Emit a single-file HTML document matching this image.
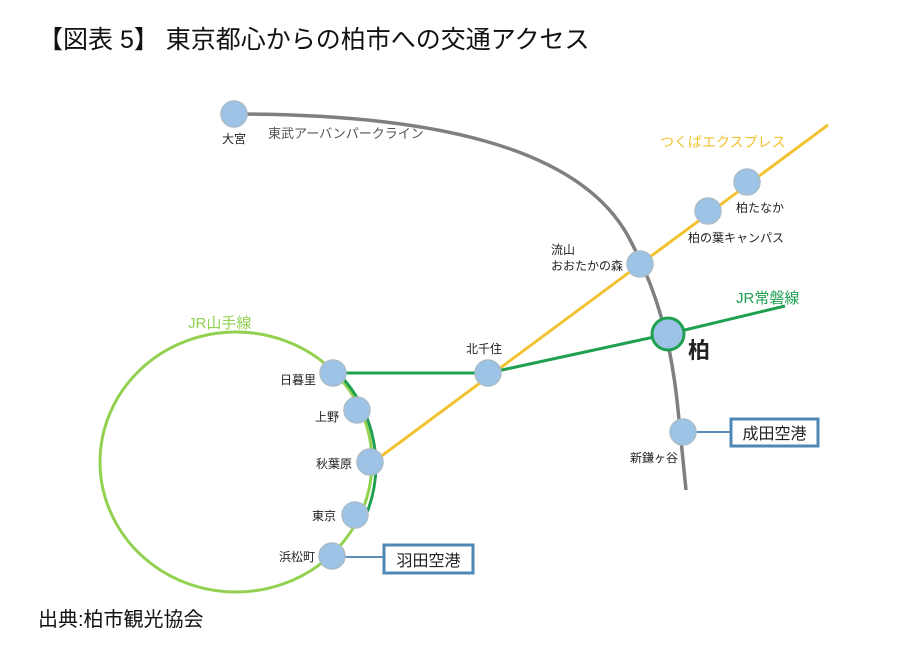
<!DOCTYPE html>
<html><head><meta charset="utf-8"><style>
body{margin:0;background:#fff;width:900px;height:655px;overflow:hidden}
svg{display:block;font-family:"Liberation Sans","Noto Sans CJK JP",sans-serif}
</style></head><body>
<svg width="900" height="655" viewBox="0 0 900 655">
<text x="38" y="48" font-size="25" fill="#111">【図表 5】 東京都心からの柏市への交通アクセス</text>
<!-- Yamanote -->
<ellipse cx="236" cy="462" rx="136" ry="130" fill="none" stroke="#92d050" stroke-width="3"/>
<!-- Tobu -->
<path d="M234,114 C430,114 578,146 628,236 C656,288 672,340 679,420 L686,490" fill="none" stroke="#7f7f7f" stroke-width="3.5"/>
<!-- TX -->
<line x1="372" y1="463" x2="828" y2="125" stroke="#f2c230" stroke-width="3"/>
<!-- Joban -->
<path d="M333,373 L488,373 L668,334 L785,306" fill="none" stroke="#1fa050" stroke-width="3"/>
<path d="M340,375 A142 136 0 0 1 366,515" fill="none" stroke="#1fa050" stroke-width="3"/>
<!-- box connectors -->
<line x1="683" y1="432" x2="731" y2="432" stroke="#5b8db8" stroke-width="2"/>
<line x1="332" y1="557" x2="384" y2="557" stroke="#5b8db8" stroke-width="2"/>
<rect x="731" y="419" width="87" height="27" fill="#fff" stroke="#4f87b5" stroke-width="3"/>
<text x="774.5" y="439" font-size="16" text-anchor="middle" fill="#222">成田空港</text>
<rect x="384" y="545" width="89" height="28" fill="#fff" stroke="#4f87b5" stroke-width="3"/>
<text x="428.5" y="566" font-size="16" text-anchor="middle" fill="#222">羽田空港</text>
<!-- stations -->
<g fill="#9dc3e6" stroke="#a9bcc9" stroke-width="1.5">
<circle cx="234" cy="114" r="13"/>
<circle cx="640" cy="264" r="13"/>
<circle cx="708" cy="211" r="13"/>
<circle cx="747" cy="182" r="13"/>
<circle cx="683" cy="432" r="13"/>
<circle cx="488" cy="373" r="13"/>
<circle cx="333" cy="373" r="13"/>
<circle cx="357" cy="410" r="13"/>
<circle cx="370" cy="462" r="13"/>
<circle cx="355" cy="515" r="13"/>
<circle cx="332" cy="556" r="13"/>
</g>
<circle cx="668" cy="334" r="16" fill="#9dc3e6" stroke="#1fa050" stroke-width="3"/>
<g font-size="12" fill="#222">
<text x="222" y="143">大宮</text>
<text x="268" y="138" fill="#555" font-size="13">東武アーバンパークライン</text>
<text x="660" y="147" fill="#f2c230" font-size="14">つくばエクスプレス</text>
<text x="736" y="212">柏たなか</text>
<text x="688" y="242">柏の葉キャンパス</text>
<text x="551" y="254">流山</text>
<text x="551" y="270">おおたかの森</text>
<text x="736" y="303" fill="#1fa050" font-size="15">JR常磐線</text>
<text x="688" y="358" font-size="22" font-weight="bold">柏</text>
<text x="466" y="353">北千住</text>
<text x="630" y="462">新鎌ヶ谷</text>
<text x="188" y="328" fill="#92d050" font-size="15">JR山手線</text>
<text x="280" y="384">日暮里</text>
<text x="315" y="421">上野</text>
<text x="316" y="468">秋葉原</text>
<text x="312" y="520">東京</text>
<text x="279" y="561">浜松町</text>
</g>
<text x="38" y="626" font-size="20" fill="#111">出典:柏市観光協会</text>
</svg>
</body></html>
